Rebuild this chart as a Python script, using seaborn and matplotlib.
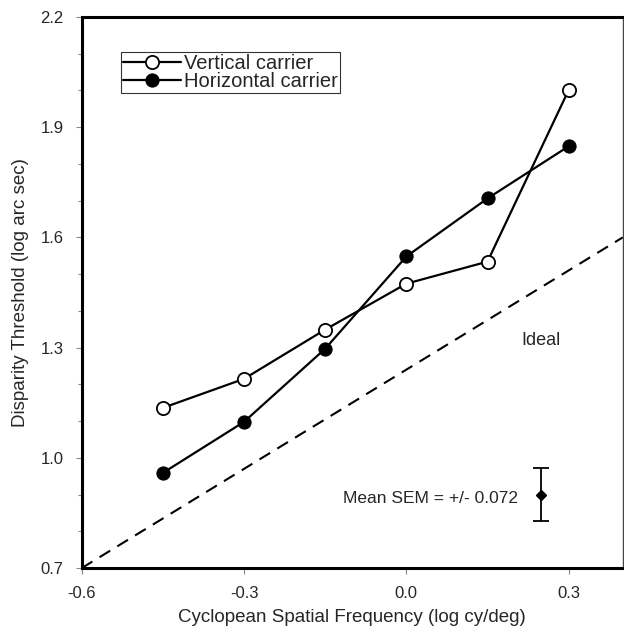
import matplotlib
matplotlib.use("Agg")
import matplotlib.pyplot as plt
import seaborn as sns
import pandas as pd
from matplotlib.ticker import MultipleLocator

freq = [-0.45, -0.30, -0.15, 0.0, 0.15, 0.30]
vertical = [1.136, 1.215, 1.349, 1.474, 1.534, 2.001]
horizontal = [0.959, 1.098, 1.297, 1.548, 1.706, 1.848]
ideal_x = [-0.6, 0.4]
ideal_y = [0.7, 1.6]
sem_x = [0.248]
sem_y = [0.90]
sem_err = 0.072

sns.set_theme(style="ticks")
plt.rcParams['font.family'] = ['Liberation Sans', 'DejaVu Sans']

fig = plt.figure(figsize=(6.24, 6.27), dpi=100)
ax = fig.add_axes([0.131, 0.094, 0.867, 0.879])

df = pd.DataFrame({"x": freq * 2,
                   "y": vertical + horizontal,
                   "carrier": ["Vertical carrier"] * 6 + ["Horizontal carrier"] * 6})

sns.lineplot(data=df[df.carrier == "Vertical carrier"], x="x", y="y", ax=ax,
             color="black", lw=1.6, marker="o", markersize=9.5,
             markerfacecolor="white", markeredgecolor="black", markeredgewidth=1.3,
             label="Vertical carrier")
sns.lineplot(data=df[df.carrier == "Horizontal carrier"], x="x", y="y", ax=ax,
             color="black", lw=1.6, marker="o", markersize=9.5,
             markerfacecolor="black", markeredgecolor="black",
             label="Horizontal carrier")
sns.lineplot(x=ideal_x, y=ideal_y, ax=ax, color="black", lw=1.5, linestyle=(0, (6, 4)))

ax.errorbar(sem_x, sem_y, yerr=sem_err, fmt="D", color="black", markersize=5,
            capsize=6, lw=1.3, capthick=1.3)
ax.text(0.207, 0.888, "Mean SEM = +/- 0.072", fontsize=12.5, ha="right", va="center")
ax.text(0.248, 1.32, "Ideal", fontsize=13, ha="center", va="center")

ax.set_xlim(-0.6, 0.4)
ax.set_ylim(0.7, 2.2)
ax.set_xticks([-0.6, -0.3, 0.0, 0.3])
ax.set_xticklabels(["-0.6", "-0.3", "0.0", "0.3"])
ax.set_yticks([0.7, 1.0, 1.3, 1.6, 1.9, 2.2])
ax.set_yticklabels(["0.7", "1.0", "1.3", "1.6", "1.9", "2.2"])
ax.yaxis.set_minor_locator(MultipleLocator(0.1))
ax.tick_params(axis="both", labelsize=12, direction="out", length=4, width=0.8, color="#888888", pad=9)
ax.tick_params(axis="y", which="minor", length=3, width=0.8, color="#888888")
ax.set_xlabel("Cyclopean Spatial Frequency (log cy/deg)", fontsize=13.5, labelpad=6)
ax.set_ylabel("Disparity Threshold (log arc sec)", fontsize=13.5, labelpad=8)

for side in ["left", "bottom", "top"]:
    ax.spines[side].set_linewidth(2.2)
    ax.spines[side].set_color("black")
ax.spines["right"].set_linewidth(1.0)
ax.spines["right"].set_color("#444444")

leg = ax.legend(loc="upper left", bbox_to_anchor=(0.072, 0.937), fontsize=14.5,
                frameon=True, fancybox=False, edgecolor="black", handlelength=2.9,
                handletextpad=0.15, borderpad=0.1, labelspacing=-0.05, borderaxespad=0)
leg.get_frame().set_linewidth(0.8)

fig.savefig("out.png", dpi=100)
